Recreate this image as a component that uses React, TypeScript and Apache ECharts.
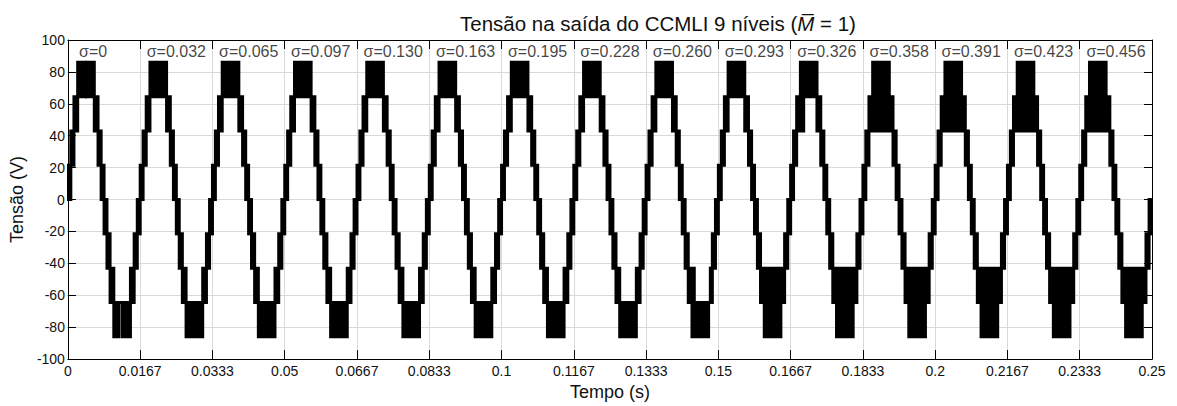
import React, { useEffect, useRef } from 'react';
import * as echarts from 'echarts';

// ---- data ----
const fundamentalHz = 60;
const cycleCount = 15;
// output voltage levels of the 9-level converter (V)
const levels = [0, 21.5, 43, 64.5, 86];
// level-change angles within a half cycle (degrees)
const stepAnglesDeg = [14.5, 30, 48.6];
const sigmaLabels = [
  'σ=0', 'σ=0.032', 'σ=0.065', 'σ=0.097', 'σ=0.130', 'σ=0.163', 'σ=0.195', 'σ=0.228',
  'σ=0.260', 'σ=0.293', 'σ=0.326', 'σ=0.358', 'σ=0.391', 'σ=0.423', 'σ=0.456',
];
const sigmaLabelTimes = [
  0.0058, 0.025, 0.0417, 0.0583, 0.075, 0.0917, 0.1083, 0.125,
  0.1417, 0.1583, 0.175, 0.1917, 0.2083, 0.225, 0.2417,
];
// PWM fill of the 43–64.5 V band across the crest (degrees in the half cycle), per cycle
const posMidFill: (number[][] | null)[] = [
  null, null, null, null, null, null, null, null, null, null,
  [[30, 65], [131, 150]], [[30, 150]], [[30, 150]], [[30, 150]], [[30, 150]],
];
const negMidFill: (number[][] | null)[] = [
  null, null, null, null, null, null, null, null, [[30, 60], [140, 150]],
  [[30, 150]], [[30, 150]], [[30, 150]], [[30, 150]], [[30, 150]], [[30, 150]],
];
// gap in the crest band (degrees in the half cycle), per cycle
const posCrestGap: (number[] | null)[] = [[85, 95], null, null, null, null, null, null, null, null, null, null, null, null, null, null];
const negCrestGap: (number[] | null)[] = [[75, 92], null, null, null, null, null, null, null, null, null, null, null, null, null, null];

const xTickLabels = ['0', '0.0167', '0.0333', '0.05', '0.0667', '0.0833', '0.1', '0.1167', '0.1333', '0.15', '0.1667', '0.1833', '0.2', '0.2167', '0.2333', '0.25'];
const yMin = -100;
const yMax = 100;
const yStep = 20;

// ---- build band rectangles [tStart, tEnd, vA, vB] ----
function buildBands(): number[][] {
  const out: number[][] = [];
  const period = 1 / fundamentalHz;
  const [a1, a2, a3] = stepAnglesDeg;
  for (let c = 0; c < cycleCount; c++) {
    for (let h = 0; h < 2; h++) {
      const s = h === 0 ? 1 : -1;
      const t0 = (c + h / 2) * period;
      const T = (deg: number) => t0 + (deg / 360) * period;
      const L = (k: number) => s * levels[k];
      const push = (d0: number, d1: number, k0: number, k1: number) =>
        out.push([T(d0), T(d1), L(k0), L(k1)]);
      push(0, a1, 0, 1);
      push(a1, a2, 1, 2);
      const mid = h === 0 ? posMidFill[c] : negMidFill[c];
      if (mid) {
        mid.forEach(([d0, d1]) => push(d0, d1, 2, 3));
      } else {
        push(a2, a3, 2, 3);
        push(180 - a3, 180 - a2, 2, 3);
      }
      const gap = h === 0 ? posCrestGap[c] : negCrestGap[c];
      if (gap) {
        push(a3, gap[0], 3, 4);
        push(gap[0], gap[1], 3, 3);
        push(gap[1], 180 - a3, 3, 4);
      } else {
        push(a3, 180 - a3, 3, 4);
      }
      push(180 - a2, 180 - a1, 1, 2);
      push(180 - a1, 180, 0, 1);
    }
  }
  return out;
}

const FONT = '"Liberation Sans", Arial, Helvetica, sans-serif';
const TXT = '#111';

export default function App() {
  const ref = useRef<HTMLDivElement>(null);
  useEffect(() => {
    if (!ref.current) return;
    const chart = echarts.init(ref.current, undefined, { renderer: 'svg' });
    const bands = buildBands();
    const labelData = sigmaLabelTimes.map((t, i) => ({ value: [t, 92.5], name: sigmaLabels[i] }));
    const xFmt = (v: number) => {
      const k = Math.round(v * fundamentalHz);
      return Math.abs(v * fundamentalHz - k) < 1e-6 ? xTickLabels[k] ?? '' : '';
    };
    chart.setOption({
      animation: false,
      backgroundColor: '#fff',
      title: {
        text: 'Tensão na saída do CCMLI 9 níveis ({i|M\u0305} = 1)',
        left: 455,
        top: 8,
        textStyle: {
          fontFamily: FONT, fontSize: 20.5, fontWeight: 'normal', color: TXT,
          rich: { i: { fontFamily: FONT, fontSize: 20.5, fontStyle: 'italic', color: TXT } },
        },
      },
      grid: { left: 67, right: 25, top: 40, bottom: 46, containLabel: false },
      xAxis: [
        {
          type: 'value', min: 0, max: 0.25, interval: 1 / fundamentalHz,
          name: 'Tempo (s)', nameLocation: 'middle', nameGap: 22,
          nameTextStyle: { fontFamily: FONT, fontSize: 18, color: TXT },
          axisLine: { show: true, onZero: false, lineStyle: { color: '#000', width: 1 } },
          axisTick: { show: true, inside: true, length: 9, lineStyle: { color: '#000' } },
          axisLabel: { fontFamily: FONT, fontSize: 14, color: TXT, margin: 5, formatter: xFmt, showMaxLabel: true, showMinLabel: true },
          splitLine: { show: true, lineStyle: { color: '#d9d9d9', width: 1 } },
        },
        {
          type: 'value', min: 0, max: 0.25, interval: 1 / fundamentalHz, position: 'top',
          axisLine: { show: true, onZero: false, lineStyle: { color: '#000', width: 1 } },
          axisTick: { show: true, inside: true, length: 9, lineStyle: { color: '#000' } },
          axisLabel: { show: false }, splitLine: { show: false },
        },
      ],
      yAxis: [
        {
          type: 'value', min: yMin, max: yMax, interval: yStep,
          name: 'Tensão (V)', nameLocation: 'middle', nameGap: 40,
          nameTextStyle: { fontFamily: FONT, fontSize: 18, color: TXT },
          axisLine: { show: true, onZero: false, lineStyle: { color: '#000', width: 1 } },
          axisTick: { show: true, inside: true, length: 8, lineStyle: { color: '#000' } },
          axisLabel: { fontFamily: FONT, fontSize: 14, color: TXT, margin: 3 },
          splitLine: { show: true, lineStyle: { color: '#d9d9d9', width: 1 } },
        },
        {
          type: 'value', min: yMin, max: yMax, interval: yStep, position: 'right',
          axisLine: { show: true, onZero: false, lineStyle: { color: '#000', width: 1 } },
          axisTick: { show: true, inside: true, length: 8, lineStyle: { color: '#000' } },
          axisLabel: { show: false }, splitLine: { show: false },
        },
      ],
      series: [
        {
          type: 'custom',
          xAxisIndex: 0, yAxisIndex: 0,
          clip: true,
          encode: { x: [0, 1], y: [2, 3] },
          data: bands,
          renderItem: (_p: any, api: any) => {
            const t0 = api.value(0), t1 = api.value(1), v0 = api.value(2), v1 = api.value(3);
            const a = api.coord([t0, Math.max(v0, v1)]);
            const b = api.coord([t1, Math.min(v0, v1)]);
            return {
              type: 'rect',
              shape: { x: a[0], y: a[1], width: b[0] - a[0], height: b[1] - a[1] },
              style: { fill: '#000', stroke: '#000', lineWidth: 3, lineJoin: 'miter' },
            };
          },
          z: 3,
        },
        {
          type: 'scatter',
          xAxisIndex: 0, yAxisIndex: 0,
          symbolSize: 0,
          data: labelData,
          label: {
            show: true, position: 'inside', formatter: (p: any) => p.name,
            fontFamily: FONT, fontSize: 16, color: TXT,
          },
          z: 5,
        },
      ],
    });
    return () => chart.dispose();
  }, []);
  return <div ref={ref} style={{ position: 'fixed', left: 0, top: 0, width: 1177, height: 406 }} />;
}
